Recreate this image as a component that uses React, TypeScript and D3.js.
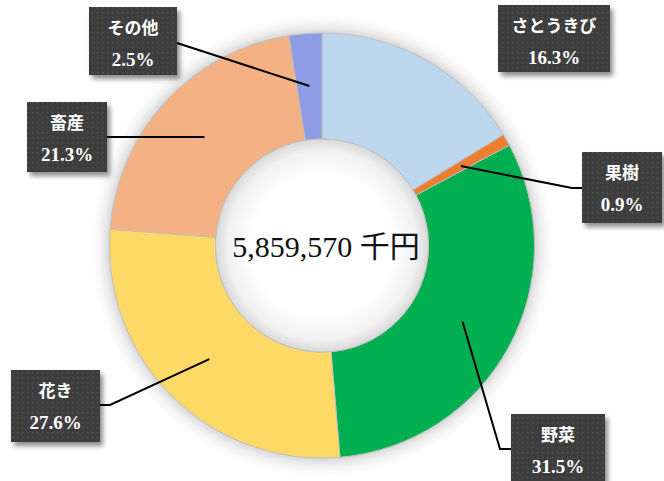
import React from "react";
import * as d3 from "d3";

const categories = ["さとうきび", "果樹", "野菜", "花き", "畜産", "その他"];
const shares = [16.3, 0.9, 31.5, 27.6, 21.3, 2.5];
const colors = ["#BDD7EE", "#ED7D31", "#00B050", "#FFD966", "#F4B183", "#8E9CE6"];
const totalLabel = "5,859,570 千円";

// layout of label boxes: [x, y, w, h], and leader elbow (null = no leader)
const boxes: [number, number, number, number][] = [
  [498, 5, 112, 67],
  [582, 152, 80, 71],
  [511, 414, 94, 70],
  [11, 370, 89, 72],
  [27, 102, 80, 70],
  [89, 7, 88, 68],
];
const leaderStart: ([number, number] | null)[] = [null, [582, 188], [511, 449], [100, 405], [107, 137], [177, 43]];
const leaderElbow: ([number, number] | null)[] = [null, [572, 188], [500, 449], [110, 405], null, null];

const W = 664, H = 481;
const cx = 322, cy = 245.5;
const R = 212.5, r = 106.5;

export default function App() {
  const pie = d3.pie<number>().sort(null).value((d) => d)(shares);
  const arc = d3.arc<d3.PieArcDatum<number>>().innerRadius(r).outerRadius(R);
  const anchorR = 160;
  const anchors = pie.map((p) => {
    const a = (p.startAngle + p.endAngle) / 2;
    return [cx + anchorR * Math.sin(a), cy - anchorR * Math.cos(a)] as [number, number];
  });
  const line = d3.line();
  const font = "Liberation Serif, Noto Sans CJK JP, serif";
  return (
    <svg width={W} height={H} style={{ position: "absolute", left: 0, top: 0, background: "#fff" }}>
      <defs>
        <radialGradient id="halo" cx={cx} cy={cy} r={R + 22} gradientUnits="userSpaceOnUse">
          <stop offset={(R - 2) / (R + 22)} stopColor="#cfcfcf" stopOpacity={1} />
          <stop offset={(R + 6) / (R + 22)} stopColor="#e6e6e6" stopOpacity={0.8} />
          <stop offset={1} stopColor="#ffffff" stopOpacity={0} />
        </radialGradient>
        <radialGradient id="hole" cx={cx} cy={cy} r={r} gradientUnits="userSpaceOnUse">
          <stop offset={0.65} stopColor="#ffffff" />
          <stop offset={0.88} stopColor="#f2f2f2" />
          <stop offset={1} stopColor="#d9d9d9" />
        </radialGradient>
        <pattern id="dots" width={5} height={5} patternUnits="userSpaceOnUse">
          <rect width={5} height={5} fill="#3c3c3c" />
          <rect x={2} y={2} width={1.3} height={1.3} fill="#555555" />
        </pattern>
        <filter id="shadow" x="-20%" y="-20%" width="150%" height="150%">
          <feDropShadow dx={3} dy={4} stdDeviation={2.5} floodColor="#000" floodOpacity={0.45} />
        </filter>
      </defs>
      <circle cx={cx} cy={cy} r={R + 22} fill="url(#halo)" />
      <g transform={`translate(${cx},${cy})`}>
        {pie.map((p, i) => (
          <path key={i} d={arc(p) || ""} fill={colors[i]} stroke="#bfbfbf" strokeWidth={1} />
        ))}
      </g>
      <circle cx={cx} cy={cy} r={r} fill="url(#hole)" stroke="#bfbfbf" strokeWidth={1} />
      <text x={326} y={257} textAnchor="middle" fontFamily={font} fontSize={30} fill="#111">
        {totalLabel}
      </text>
      {categories.map((c, i) => {
        const s = leaderStart[i];
        if (!s) return null;
        const pts: [number, number][] = [s];
        const e = leaderElbow[i];
        if (e) pts.push(e);
        pts.push(anchors[i]);
        return <path key={"l" + i} d={line(pts) || ""} fill="none" stroke="#000" strokeWidth={2} />;
      })}
      {categories.map((c, i) => {
        const [x, y, w, h] = boxes[i];
        return (
          <g key={"b" + i}>
            <rect x={x} y={y} width={w} height={h} fill="url(#dots)" filter="url(#shadow)" />
            <text x={x + w / 2} y={y + 27} textAnchor="middle" fontFamily={font} fontWeight="bold" fontSize={17} fill="#fff">
              {c}
            </text>
            <text x={x + w / 2} y={y + 59} textAnchor="middle" fontFamily={font} fontWeight="bold" fontSize={19} fill="#fff">
              {shares[i].toFixed(1)}%
            </text>
          </g>
        );
      })}
    </svg>
  );
}
